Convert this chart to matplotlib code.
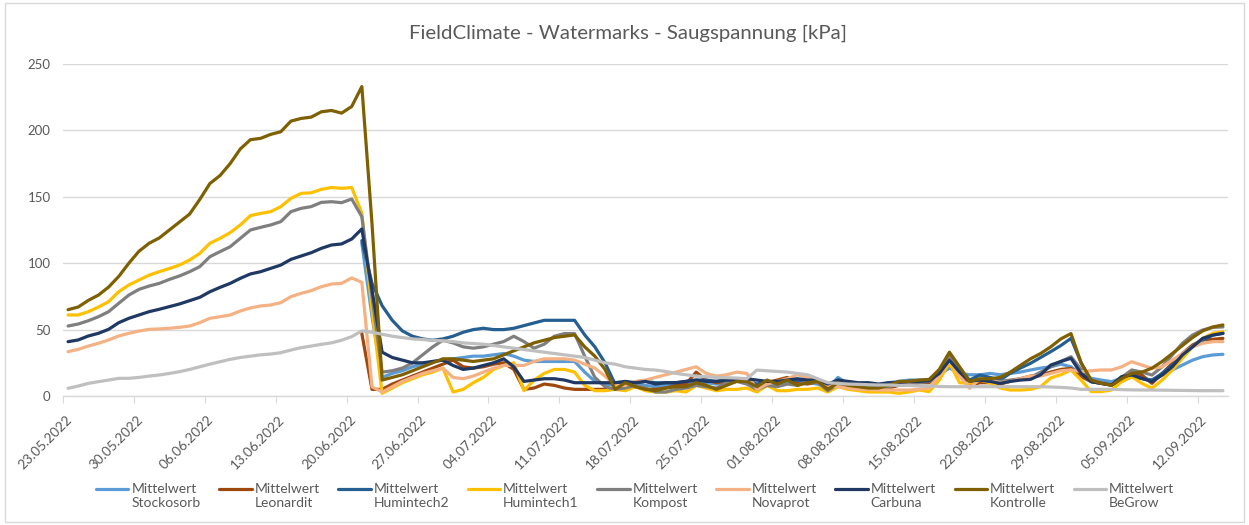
import numpy as np
import pandas as pd
import matplotlib
matplotlib.use("Agg")
import matplotlib.pyplot as plt
from matplotlib.legend_handler import HandlerLine2D
from matplotlib.patches import Rectangle
from matplotlib.transforms import ScaledTranslation

plt.rcParams['font.family'] = ['Lato', 'DejaVu Sans']

nan = np.nan

title = "FieldClimate - Watermarks - Saugspannung [kPa]"
dates = pd.date_range("2022-05-23", "2022-09-14", freq="D")
tick_dates = pd.date_range("2022-05-23", "2022-09-12", freq="7D")
tick_labels = [d.strftime("%d.%m.%Y") for d in tick_dates]

names = ["Stockosorb", "Leonardit", "Humintech2", "Humintech1", "Kompost",
         "Novaprot", "Carbuna", "Kontrolle", "BeGrow"]
colors = ["#5B9BD5", "#9E480E", "#255E91", "#FFC000", "#7F7F7F",
          "#F4B183", "#1F3864", "#7F6000", "#BFBFBF"]

stockosorb = [nan] * 29 + [
    115, 60, 14, 17, 19, 22, 24, 26, 27, 28, 29, 30, 30,
    31, 32, 30, 27, 26, 26, 26, 26, 26, 18, 11, 9, 8, 9, 9,
    8, 7, 8, 9, 9, 10, 10, 9, 10, 11, 12, 8, 10,
    9, 10, 11, 10, 9, 6, 14, 9, 8, 7, 8, 10, 11, 12, 12,
    12, 16, 21, 17, 16, 16, 17, 16, 17, 18, 19.6, 21, 22, 24, 22,
    16, 13.3, 12, 10.8, 13.3, 17, 13.3, 12, 15.8, 19.6, 23.3, 27, 29.6, 30.9, 31.4]

leonardit = [nan] * 29 + [
    47, 5, 5, 9, 12, 15, 18, 21, 24, 27, 22, 21, 22,
    24, 25, 20, 5, 6, 9, 8, 6, 5, 5, 5, 5, 5, 6, 7,
    5, 5, 6, 8, 9, 18, 12, 10, 11, 12, 10, 5, 10,
    12, 14, 10, 9, 11, 5, 9, 7, 6, 5, 5, 6, 8, 9, 10,
    10, 17, 27, 18, 8, 10, 10, 9, 11, 13, 15, 16, 18, 20, 20.8,
    14.6, 10.8, 9.5, 8.3, 14, 18.3, 15.8, 9.5, 17, 24.6, 32, 38.4, 42.2, 42.7, 43.4]

humintech2 = [nan] * 29 + [
    117, 85, 68, 57, 49, 45, 43, 42, 43, 45, 48, 50, 51,
    50, 50, 51, 53, 55, 57, 57, 57, 57, 46, 37, 25, 9, 10, 10,
    11, 10, 10, 10, 11, 12, 12, 11, 12, 12, 12, 9, 11,
    10, 12, 12, 11, 11, 7, 12, 10, 9, 9, 8, 9, 10, 11, 11.3,
    12, 18, 28.4, 20, 12, 15.8, 14, 12, 17.1, 21, 24.6, 29, 33.4, 38, 43.4,
    25, 10.8, 9.5, 8.3, 11, 14.6, 13, 12, 17, 23.3, 30, 37.1, 42, 45.9, 47.2]

humintech1 = [
    61, 61, 63.5, 67, 71, 78.5, 83.6, 87.3, 91, 93.6,
    96, 98.6, 102.4, 107.4, 115, 118.7, 123, 128.8, 135.8, 137.5,
    138.8, 142.6, 148.8, 152.6, 153, 155.6, 157, 156.4, 157, 137.5,
    65, 2, 6, 10, 13, 16, 18, 21, 3, 5,
    10, 14, 20, 23, 25, 4, 12, 17, 20, 20,
    18, 8, 4, 4, 5, 4, 7, 4, 3, 3,
    4, 3, 8, 6, 4, 5, 5, 6, 3, 8,
    4, 4, 5, 5, 6, 3, 7, 5, 4, 3,
    3, 3, 2, 3, 4.5, 3.3, 12, 25, 10, 9.5,
    12, 10, 6, 4.5, 4.5, 5, 7, 13.6, 16, 19.6,
    12, 3.3, 3.3, 4.5, 10.8, 14.6, 9.5, 5.8, 12, 19.6,
    28.4, 37, 43.4, 47.2, 48.4]

kompost = [
    52.7, 54.2, 56.7, 59.7, 63.5, 69.8, 76, 80.3, 82.8, 84.8,
    87.8, 90.4, 93.6, 97.4, 104.9, 108.7, 112.4, 118.7, 125, 127,
    128.8, 131.3, 138.8, 141.3, 142.6, 145.8, 146.3, 145.6, 148.3, 135,
    75, 18, 19, 21, 25, 31, 37, 42, 40, 37,
    36, 37, 39, 41, 45, 41, 36, 39, 45, 47,
    47, 30, 14, 7, 5, 6, 8, 6, 3, 3,
    5, 6, 8, 7, 6, 10, 11, 9, 5, 8,
    7, 9, 8, 11, 10, 4, 9, 7, 6, 6,
    6, 7, 9, 10, 10, 11, 18, 30, 20, 11,
    12, 11, 11, 12, 13, 14, 18, 22, 26, 29.6,
    20, 12, 10, 8.3, 14, 19.6, 18, 15.8, 22, 30.9,
    39.7, 45.9, 49.7, 51.7, 52]

novaprot = [
    33.4, 35.1, 37.6, 39.7, 42.2, 45.2, 47.2, 48.9, 50.2, 50.5,
    51, 51.7, 52.7, 55.2, 58.5, 59.7, 61, 64, 66.3, 67.8,
    68.5, 70.3, 74.8, 77.3, 79.3, 82.3, 84.3, 84.8, 88.9, 85.6,
    7, 3, 7, 11, 14, 17, 19, 21, 14, 13,
    15, 18, 21, 23, 23, 23, 26, 28, 28, 28,
    27, 24, 21, 15, 8, 8, 11, 12, 14, 16,
    18, 20, 22, 17, 15, 16, 18, 17, 5, 9,
    11, 13, 16, 14, 12, 8, 7, 6, 5, 5,
    4.5, 4.5, 4.5, 4.5, 5, 6, 15, 27, 15, 5.8,
    13, 12, 10, 11, 13, 15, 15, 17, 19, 19.6,
    18.3, 19, 19.6, 19.6, 22, 25.8, 23.3, 20.8, 22, 27,
    32, 37, 39.7, 40.9, 41]

carbuna = [
    40.9, 42.2, 45.2, 47.2, 50.2, 55.2, 58.5, 61, 63.5, 65.3,
    67.3, 69.3, 71.8, 74.3, 78.5, 81.8, 84.8, 88.6, 91.9, 93.6,
    96.1, 98.6, 102.9, 105.4, 107.9, 111.2, 113.7, 114.5, 118.2, 125.8,
    80, 33, 29, 27, 25, 25, 26, 27, 23, 20,
    21, 23, 25, 28, 22, 11, 12, 13, 13, 12,
    10, 10, 10, 10, 10, 11, 10, 11, 9, 10,
    10, 11, 12, 11, 11, 12, 12, 13, 12, 11,
    11, 12, 13, 12, 12, 9, 12, 11, 10, 10,
    9, 10, 10, 11, 11, 11.5, 17, 27, 18, 11.3,
    12, 11, 9.5, 11, 12, 12.5, 16, 23.3, 26, 28.4,
    17, 10.8, 9.5, 8.3, 14.6, 15.8, 13.3, 10.8, 15.8, 22,
    30.9, 37, 43.4, 45.9, 47.2]

kontrolle = [
    65, 67, 72, 76, 82, 90, 100, 109, 115, 119,
    125, 131, 137, 148, 160, 166, 175, 186, 193, 194,
    197, 199, 207, 209, 210, 214, 215, 213, 218, 233,
    130, 12, 14, 16, 19, 22, 25, 28, 28, 27,
    26, 27, 28, 31, 34, 37, 40, 42, 44, 45,
    46, 37, 30, 20, 5, 10, 7, 5, 4, 6,
    7, 7, 10, 8, 5, 8, 11, 11, 7, 12,
    9, 12, 8, 10, 11, 5, 10, 8, 7, 6,
    6, 8, 11, 11, 12, 12.5, 20, 33, 22, 11,
    13, 13, 14, 18, 23, 28, 32, 37, 43, 47,
    25, 12, 9.5, 8, 13, 17, 18, 21, 26, 32,
    38, 44, 49, 52, 53.5]

begrow = [
    5.8, 7.5, 9.5, 10.8, 12, 13.3, 13.3, 14, 15, 15.8,
    17, 18.3, 20, 22, 24, 25.8, 27.6, 29, 30, 31,
    31.6, 32.6, 34.6, 36.4, 37.6, 38.9, 40, 42, 44.7, 49,
    48, 46.5, 45, 44, 43, 42.5, 42, 41.5, 41, 40,
    39.5, 39, 38, 37, 36, 35, 34, 33, 32, 31,
    30, 29, 27, 25, 24, 22, 21, 20, 19.5, 18.5,
    17, 16, 15, 14.5, 14, 13.8, 13.5, 13, 19.5, 19,
    18.5, 18, 17, 16, 13, 10, 9.5, 9, 8.8, 8.5,
    8.3, 8.3, 8, 8, 7.5, 7.5, 7.2, 7, 7, 7,
    7, 7, 7, 7, 7, 7, 7, 6.8, 6.5, 6,
    5, 5, 5, 5, 4.8, 4.6, 4.5, 4.5, 4.4, 4.3,
    4.2, 4.1, 4, 4, 4]

series = [stockosorb, leonardit, humintech2, humintech1, kompost,
          novaprot, carbuna, kontrolle, begrow]


class FirstLineHandler(HandlerLine2D):
    """Place the legend line at the height of the first text line."""
    def __init__(self, dy, **kw):
        super().__init__(**kw)
        self.dy = dy

    def create_artists(self, legend, orig_handle, xdescent, ydescent,
                       width, height, fontsize, trans):
        arts = super().create_artists(legend, orig_handle, xdescent, ydescent,
                                      width, height, fontsize, trans)
        for a in arts:
            a.set_ydata(np.asarray(a.get_ydata(), dtype=float) + self.dy)
        return arts


W, H = 1249, 525
fig = plt.figure(figsize=(W / 100, H / 100), dpi=100)
fig.patch.set_facecolor("white")
fig.add_artist(Rectangle((0.004, 0.006), 0.992, 0.988, transform=fig.transFigure,
                         fill=False, edgecolor="#D9D9D9", lw=1))

ax = fig.add_axes([63 / W, 1 - 396 / H, (1228 - 63) / W, (396 - 64) / H])
x = np.arange(len(dates))
lines = []
for name, vals, col in zip(names, series, colors):
    ln, = ax.plot(x, np.array(vals, dtype=float), color=col, lw=2.3,
                  solid_joinstyle="round", solid_capstyle="round")
    lines.append(ln)

ax.set_xlim(-0.5, len(dates) - 0.5)
ax.set_ylim(0, 250)
ax.set_yticks(np.arange(0, 251, 50))
ax.yaxis.grid(True, color="#D9D9D9", lw=1)
ax.set_axisbelow(True)
for s in ["top", "right", "left"]:
    ax.spines[s].set_visible(False)
ax.spines["bottom"].set_color("#D9D9D9")
ax.spines["bottom"].set_linewidth(1)

tick_pos = [(d - dates[0]).days - 0.5 for d in tick_dates]
ax.set_xticks(tick_pos)
ax.set_xticklabels(tick_labels, rotation=45, ha="right", va="center",
                   rotation_mode="anchor")
ax.tick_params(axis="x", colors="#595959", labelsize=9.8, length=5,
               color="#D9D9D9", pad=9)
ax.tick_params(axis="y", colors="#595959", labelsize=9.5, length=0, pad=9)
off = ScaledTranslation(7 / 100, -2 / 100, fig.dpi_scale_trans)
for lab in ax.get_xticklabels():
    lab.set_transform(lab.get_transform() + off)

fig.text(0.503, 1 - 33 / H, title, ha="center", va="center",
         fontsize=14.7, color="#595959")

handler = FirstLineHandler(dy=5.5)
leg = fig.legend(lines, ["Mittelwert\n" + n for n in names], loc="center",
                 bbox_to_anchor=(0.5085, 1 - 496 / H), ncol=9, frameon=False,
                 fontsize=10, handlelength=2.35, handletextpad=0.2,
                 columnspacing=1.33, labelcolor="#595959",
                 handler_map={ln: handler for ln in lines})

fig.savefig("out.png", dpi=100)
